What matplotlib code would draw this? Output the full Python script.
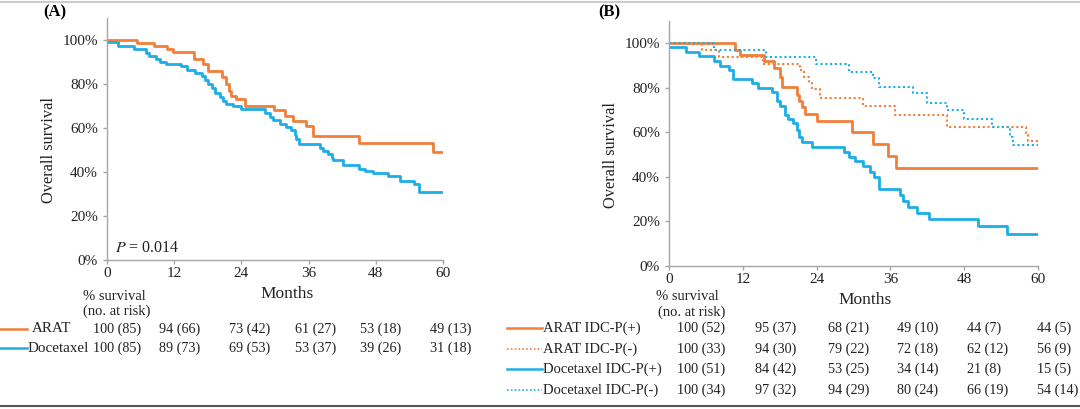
import matplotlib
matplotlib.use("Agg")
import matplotlib.pyplot as plt
from matplotlib.lines import Line2D

plt.rcParams['font.family'] = ['Liberation Serif', 'DejaVu Serif']
plt.rcParams['mathtext.fontset'] = 'stix'

orange = '#F07F3A'
blue = '#1EAEE6'
grey = '#A6A6A6'

# ---- panel A: step curves (month, % survival)
a_arat_t = [0, 5.3, 8.4, 10.8, 11.8, 15.6, 17.2, 18.1, 20.6, 21.3, 21.8, 22.2, 23.1, 24.6,
            29.8, 31.7, 33.2, 35.6, 36.8, 45.0, 58.3, 60]
a_arat_s = [100, 98.5, 97.3, 96, 94.6, 91.5, 89, 86, 83, 80, 77, 74.5, 73, 70,
            68, 65.5, 63.4, 61, 56.5, 53.4, 49.1, 49.1]
a_doc_t = [0, 2.0, 4.8, 7.0, 7.5, 8.7, 9.5, 10.5, 13.3, 14.2, 15.7, 16.9, 17.5, 18.1, 18.7,
           19.3, 20.2, 20.7, 21.3, 22.5, 24.0, 28.2, 29.1, 29.7, 30.9, 32.0, 32.9, 33.5, 33.8,
           34.2, 38.0, 38.6, 39.5, 40.1, 40.4, 42.1, 45.0, 46.0, 47.5, 50.2, 52.3, 54.9, 55.7, 60]
a_doc_s = [99, 97.5, 96, 94, 92.7, 91.5, 90, 89.3, 88, 86.5, 85, 83.5, 82, 80, 78,
           76, 74, 72.5, 71, 70, 68.6, 67, 65, 63.5, 62, 60.5, 59, 57, 55,
           52.8, 51, 49.5, 48, 46.5, 45.5, 43, 41.5, 40.3, 39.5, 38, 36, 34.5, 30.8, 30.8]

# ---- panel B
b_arat_pos_t = [0, 10.8, 11.6, 15.5, 17.0, 18.1, 18.4, 20.8, 21.2, 21.6, 22.1, 24.0,
                29.7, 33.1, 35.6, 36.9, 60]
b_arat_pos_s = [100, 97, 94.6, 92, 89, 85, 80.3, 77, 74, 71.5, 68.2, 65,
                60, 55, 49.5, 44, 44]
b_arat_neg_t = [0, 5.4, 8.1, 15.3, 21.3, 21.9, 22.8, 23.2, 24.5, 31.6, 36.8, 45.2, 58.1, 58.4, 60]
b_arat_neg_s = [100, 97, 94, 90.9, 88, 85, 82, 79.3, 75.5, 71.8, 67.6, 62.4, 59, 55.9, 55.9]
b_doc_pos_t = [0, 2.8, 4.8, 7.3, 8.3, 9.7, 10.4, 13.5, 14.4, 16.7, 17.5, 18.1, 18.9, 19.4,
               20.2, 20.8, 21.2, 21.6, 23.2, 28.4, 29.2, 30.3, 31.6, 32.7, 33.3, 34.1,
               37.6, 38.1, 38.9, 40.3, 42.2, 50.3, 54.9, 60]
b_doc_pos_s = [98.4, 96.1, 94.2, 92, 90, 88, 84.1, 82, 80, 78, 74, 72, 68, 66,
               64, 61, 58, 55.7, 53.5, 51, 49, 47, 45, 42, 40, 34.4,
               32, 29, 26.7, 23.7, 21, 17.9, 14.5, 14.5]
b_doc_neg_t = [0, 7.3, 15.8, 23.9, 29.2, 33.2, 34.1, 39.7, 41.9, 45.2, 47.9, 52.5, 55.5, 56.0, 60]
b_doc_neg_s = [100, 97, 94, 90.9, 87.2, 84.5, 80.2, 77.5, 73.3, 70.2, 66, 62.4, 58, 54.2, 54.2]

# ---- risk tables
months = [0, 12, 24, 36, 48, 60]
a_labels = ['ARAT', 'Docetaxel']
a_table = [['100 (85)', '94 (66)', '73 (42)', '61 (27)', '53 (18)', '49 (13)'],
           ['100 (85)', '89 (73)', '69 (53)', '53 (37)', '39 (26)', '31 (18)']]
b_labels = ['ARAT IDC-P(+)', 'ARAT IDC-P(-)', 'Docetaxel IDC-P(+)', 'Docetaxel IDC-P(-)']
b_table = [['100 (52)', '95 (37)', '68 (21)', '49 (10)', '44 (7)', '44 (5)'],
           ['100 (33)', '94 (30)', '79 (22)', '72 (18)', '62 (12)', '56 (9)'],
           ['100 (51)', '84 (42)', '53 (25)', '34 (14)', '21 (8)', '15 (5)'],
           ['100 (34)', '97 (32)', '94 (29)', '80 (24)', '66 (19)', '54 (14)']]

W, H = 1080, 409
fig = plt.figure(figsize=(W / 100, H / 100), dpi=100)
dots = (0, (1, 1.3))


def px(x, y):
    return x / W, 1 - y / H


def style_axes(ax, ylab_x):
    ax.set_xlim(0, 60)
    ax.set_ylim(0, 110)
    ax.set_xticks(months)
    ax.set_yticks(range(0, 101, 20))
    ax.set_yticklabels(['%d%%' % v for v in range(0, 101, 20)])
    for s in ['top', 'right']:
        ax.spines[s].set_visible(False)
    for s in ['left', 'bottom']:
        ax.spines[s].set_color(grey)
        ax.spines[s].set_linewidth(1.0)
    ax.tick_params(colors=grey, labelcolor='#222222', labelsize=11, length=3, width=1)
    ax.tick_params(axis='x', pad=2)
    ax.set_ylabel('Overall survival', fontsize=11.8, color='#222222')
    # centred on the 0-100% range
    ax.yaxis.set_label_coords(ylab_x, 50 / 110)


axA = fig.add_axes([107 / W, 1 - 260 / H, 336 / W, 242 / H])
style_axes(axA, -50 / 336)
axA.step(a_arat_t, a_arat_s, where='post', color=orange, lw=2)
axA.step(a_doc_t, a_doc_s, where='post', color=blue, lw=2)
axA.text(1.5, 3.5, '$P$ = 0.014', fontsize=11.5, color='#222222')

axB = fig.add_axes([669 / W, 1 - 266 / H, 369 / W, 245 / H])
style_axes(axB, -50 / 369)
axB.step(b_arat_pos_t, b_arat_pos_s, where='post', color=orange, lw=2)
axB.step(b_arat_neg_t, b_arat_neg_s, where='post', color=orange, lw=1.5, ls=dots)
axB.step(b_doc_pos_t, b_doc_pos_s, where='post', color=blue, lw=2)
axB.step(b_doc_neg_t, b_doc_neg_s, where='post', color=blue, lw=1.5, ls=dots)

# panel letters
fig.text(*px(43, 12), '(A)', fontsize=12, fontweight='bold', va='center')
fig.text(*px(598, 12), '(B)', fontsize=12, fontweight='bold', va='center')

tc = '#222222'
# table A
fig.text(*px(114, 296), '% survival', fontsize=10.5, ha='center', va='center', color=tc)
fig.text(*px(117, 311), '(no. at risk)', fontsize=10.5, ha='center', va='center', color=tc)
fig.text(*px(287, 294), 'Months', fontsize=12.5, ha='center', va='center', color=tc)
a_cols = [93, 159, 229, 295, 360, 430]
a_rows = [329, 348]
for i, lab in enumerate(a_labels):
    y = a_rows[i]
    c = orange if i == 0 else blue
    fig.add_artist(Line2D([0, 27 / W], [1 - y / H] * 2, color=c, lw=1.8))
    fig.text(*px(32 if i == 0 else 28, y), lab, fontsize=10.8, va='center', color=tc)
    for j, v in enumerate(a_table[i]):
        fig.text(*px(a_cols[j], y), v, fontsize=10.2, ha='left', va='center', color=tc)

# table B
fig.text(*px(687, 297), '% survival', fontsize=10.5, ha='center', va='center', color=tc)
fig.text(*px(692, 312), '(no. at risk)', fontsize=10.5, ha='center', va='center', color=tc)
fig.text(*px(865, 300), 'Months', fontsize=12.5, ha='center', va='center', color=tc)
b_cols = [677, 755, 828, 897, 967, 1037]
b_rows = [328, 349, 369, 390]
b_styles = [(orange, '-'), (orange, dots), (blue, '-'), (blue, dots)]
for i, lab in enumerate(b_labels):
    y = b_rows[i]
    c, ls = b_styles[i]
    fig.add_artist(Line2D([507 / W, 542 / W], [1 - y / H] * 2, color=c,
                          lw=1.8 if ls == '-' else 1.2, ls=ls))
    fig.text(*px(543, y), lab, fontsize=10.5, va='center', color=tc)
    for j, v in enumerate(b_table[i]):
        fig.text(*px(b_cols[j], y), v, fontsize=10.2, ha='left', va='center', color=tc)

# frame lines top and bottom
fig.add_artist(Line2D([0, 1], [1 - 1.5 / H] * 2, color='#CCCCCC', lw=1.5))
fig.add_artist(Line2D([0, 1], [1 - 406 / H] * 2, color='#555555', lw=1.5))

fig.savefig('out.png', dpi=100)
